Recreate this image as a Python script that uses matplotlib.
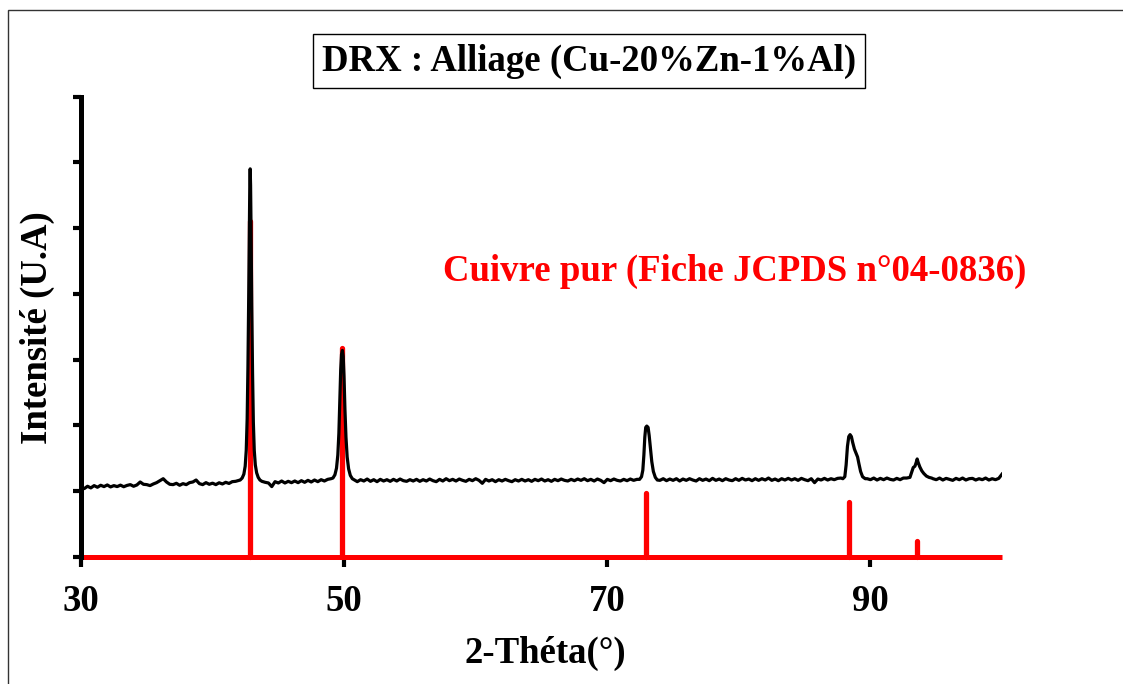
import matplotlib.pyplot as plt
from matplotlib.patches import Rectangle

plt.rcParams['font.family'] = ['Liberation Serif', 'DejaVu Serif']
plt.rcParams['font.weight'] = 'bold'

# diffractogramme : fond continu (pas de 0.25°) et pics
PAS = 0.25
fond_30 = [1.060, 1.040, 1.075, 1.050, 1.085, 1.060, 1.090, 1.070, 1.095, 1.065,
           1.085, 1.070, 1.092, 1.068, 1.088, 1.100, 1.075, 1.095, 1.140, 1.105,
           1.100, 1.085, 1.110, 1.130, 1.160, 1.190, 1.140, 1.105, 1.100, 1.120,
           1.090, 1.115, 1.100, 1.130, 1.140, 1.170, 1.115, 1.100, 1.130, 1.105,
           1.122, 1.100, 1.128, 1.110, 1.135, 1.118, 1.145, 1.150, 1.165]
fond_4375 = [1.150, 1.135, 1.125, 1.070, 1.145, 1.125, 1.155, 1.125, 1.150, 1.130,
             1.155, 1.130, 1.160, 1.135, 1.165, 1.140, 1.170, 1.145, 1.175, 1.155,
             1.180, 1.190]
fond_5075 = [1.175, 1.145, 1.175, 1.155, 1.185, 1.150, 1.175, 1.145, 1.180, 1.155,
             1.175, 1.150, 1.180, 1.155, 1.185, 1.160, 1.150, 1.175, 1.155, 1.180,
             1.150, 1.175, 1.155, 1.185, 1.160, 1.145, 1.180, 1.155, 1.190, 1.160,
             1.180, 1.155, 1.185, 1.165, 1.150, 1.180, 1.160, 1.190, 1.165, 1.120,
             1.180, 1.155, 1.175, 1.145, 1.175, 1.155, 1.180, 1.160, 1.145, 1.175,
             1.155, 1.180, 1.155, 1.175, 1.150, 1.180, 1.160, 1.185, 1.155, 1.175,
             1.150, 1.180, 1.160, 1.185, 1.165, 1.155, 1.180, 1.160, 1.185, 1.165,
             1.190, 1.160, 1.180, 1.155, 1.185, 1.165, 1.130, 1.180, 1.160, 1.185,
             1.165, 1.155, 1.180, 1.160, 1.185, 1.165, 1.180]
fond_74 = [1.165, 1.190, 1.160, 1.185, 1.165, 1.190, 1.155, 1.185, 1.165, 1.190,
           1.170, 1.155, 1.190, 1.165, 1.185, 1.160, 1.195, 1.165, 1.185, 1.160,
           1.190, 1.170, 1.160, 1.190, 1.165, 1.195, 1.170, 1.185, 1.160, 1.190,
           1.165, 1.190, 1.170, 1.200, 1.165, 1.185, 1.160, 1.190, 1.170, 1.195,
           1.170, 1.190, 1.165, 1.195, 1.175, 1.160, 1.190, 1.130, 1.185, 1.170,
           1.195, 1.170, 1.190, 1.175, 1.195, 1.200]
fond_8975 = [1.190, 1.175, 1.200, 1.170, 1.195, 1.175, 1.200, 1.180, 1.170, 1.195,
             1.175, 1.200, 1.200]
fond_9475 = [1.190, 1.175, 1.200, 1.170, 1.195, 1.180, 1.165, 1.195, 1.175, 1.200,
             1.170, 1.190, 1.195, 1.170, 1.190, 1.175, 1.200, 1.170, 1.190, 1.175,
             1.195, 1.260]

pic_111 = [(42.10, 1.17), (42.25, 1.20), (42.38, 1.26), (42.48, 1.38), (42.56, 1.62),
           (42.63, 2.10), (42.69, 2.90), (42.75, 4.00), (42.80, 5.10), (42.83, 5.65),
           (42.86, 5.90), (42.89, 5.65), (42.93, 4.90), (42.98, 3.80), (43.04, 2.80),
           (43.10, 2.05), (43.17, 1.62), (43.25, 1.40), (43.35, 1.28), (43.47, 1.21),
           (43.60, 1.17)]
pic_200 = [(49.15, 1.20), (49.30, 1.25), (49.42, 1.35), (49.52, 1.55), (49.60, 1.88),
           (49.67, 2.35), (49.74, 2.85), (49.80, 3.08), (49.87, 3.14), (49.93, 3.05),
           (49.99, 2.75), (50.06, 2.25), (50.14, 1.82), (50.23, 1.52), (50.34, 1.34),
           (50.47, 1.24), (50.62, 1.19)]
pic_220 = [(72.45, 1.18), (72.60, 1.22), (72.70, 1.32), (72.78, 1.55), (72.85, 1.82),
           (72.92, 1.97), (73.00, 1.99), (73.10, 1.97), (73.18, 1.85), (73.28, 1.65),
           (73.38, 1.45), (73.50, 1.30), (73.65, 1.21), (73.80, 1.17)]
pic_311 = [(87.90, 1.19), (88.05, 1.22), (88.15, 1.40), (88.25, 1.68), (88.35, 1.83),
           (88.45, 1.86), (88.55, 1.83), (88.65, 1.74), (88.78, 1.64), (88.90, 1.58),
           (89.02, 1.52), (89.12, 1.42), (89.25, 1.30), (89.40, 1.22), (89.60, 1.19)]
pic_222 = [(93.00, 1.21), (93.12, 1.28), (93.25, 1.36), (93.38, 1.38), (93.48, 1.44),
           (93.55, 1.49), (93.62, 1.44), (93.75, 1.37), (93.90, 1.31), (94.05, 1.27),
           (94.25, 1.23), (94.45, 1.21), (94.65, 1.20)]

# raies du cuivre (fiche JCPDS 04-0836)
raies_2theta = [42.85, 49.87, 72.94, 88.34, 93.57]
raies_int = [5.11, 3.18, 0.98, 0.84, 0.25]


def fond(debut, valeurs):
    return [(debut + i * PAS, v) for i, v in enumerate(valeurs)]


points = (fond(30.0, fond_30) + pic_111 + fond(43.75, fond_4375) + pic_200
          + fond(50.75, fond_5075) + pic_220 + fond(74.0, fond_74) + pic_311
          + fond(89.75, fond_8975) + pic_222 + fond(94.75, fond_9475))
points.sort()
x = [p[0] for p in points]
y = [p[1] for p in points]

fig = plt.figure(figsize=(11.23, 6.84), dpi=100)
ax = fig.add_axes([0.0721, 0.1857, 0.8202, 0.6732])

ax.vlines(raies_2theta, 0, raies_int, color='red', lw=3.8, capstyle='round',
          clip_on=False, zorder=2)
ax.plot([30, 100], [0, 0], color='red', lw=3.6, solid_capstyle='butt',
        clip_on=False, zorder=2)
ax.plot(x, y, color='black', lw=2.3, solid_joinstyle='round', zorder=3)

ax.set_xlim(30, 100)
ax.set_ylim(0, 7)
ax.set_xticks([30, 50, 70, 90])
ax.set_yticks(range(8))
ax.set_yticklabels([])
ax.tick_params(axis='x', direction='out', length=7.5, width=3, pad=12, labelsize=26.5)
ax.tick_params(axis='y', direction='out', length=6, width=3)
for side in ['top', 'right', 'bottom']:
    ax.spines[side].set_visible(False)
ax.spines['left'].set_linewidth(3.6)

fig.text(545 / 1123, 1 - 653 / 684, '2-Théta(°)', fontsize=26.5,
         ha='center', va='center')
fig.text(37 / 1123, 1 - 328 / 684, 'Intensité (U.A)', fontsize=26.5,
         rotation=90, ha='center', va='center')
fig.text(589 / 1123, 1 - 61 / 684, 'DRX : Alliage (Cu-20%Zn-1%Al)', fontsize=26.5,
         ha='center', va='center',
         bbox=dict(boxstyle='square,pad=0.25', fc='white', ec='black', lw=1))
fig.text(735 / 1123, 1 - 271 / 684, 'Cuivre pur (Fiche JCPDS n°04-0836)',
         fontsize=26.5, color='red', ha='center', va='center')

# cadre extérieur
fig.add_artist(Rectangle((8 / 1123, -0.5), 2, 0.5 + 1 - 10 / 684, fill=False,
                         lw=1, ec='#333333', transform=fig.transFigure))

fig.savefig('out.png', dpi=100)
